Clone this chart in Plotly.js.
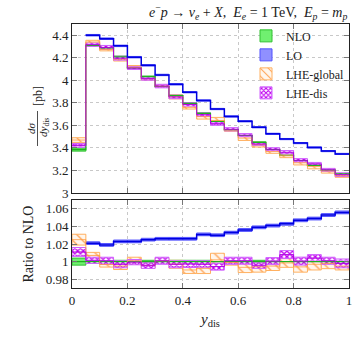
<!DOCTYPE html>
<html>
<head>
<meta charset="utf-8">
<script src="https://cdn.plot.ly/plotly-3.0.1.min.js"></script>
<style>
  body { margin: 0; background: white; }
  #chart { width: 357px; height: 340px; }
</style>
</head>
<body>
<div id="chart"></div>
<script>
// bin edges in y_dis
const binEdges = [0, 0.05, 0.1, 0.15, 0.2, 0.25, 0.3, 0.35, 0.4, 0.45, 0.5,
                  0.55, 0.6, 0.65, 0.7, 0.75, 0.8, 0.85, 0.9, 0.95, 1];

// NLO cross section per bin [pb] and relative uncertainty
const nlo = [3.385, 4.310, 4.288, 4.209, 4.111, 4.032, 3.945, 3.864, 3.796, 3.706,
             3.636, 3.562, 3.510, 3.449, 3.386, 3.335, 3.288, 3.245, 3.202, 3.169];
const nloErr = [0.004, 0.0015, 0.0015, 0.0015, 0.0015, 0.0015, 0.0015, 0.0015, 0.0015, 0.0015,
                0.0015, 0.0015, 0.0015, 0.0015, 0.0015, 0.0015, 0.0015, 0.0015, 0.0015, 0.0015];

// ratios to NLO
const loRatio = [null, 1.021, 1.019, 1.023, 1.023, 1.025, 1.026, 1.026, 1.026, 1.031,
                 1.030, 1.033, 1.036, 1.039, 1.041, 1.043, 1.047, 1.049, 1.053, 1.056];
const loErr = [null, 0.0015, 0.0015, 0.0015, 0.0015, 0.0015, 0.0015, 0.0015, 0.0015, 0.0015,
               0.0015, 0.0015, 0.0015, 0.0015, 0.0015, 0.0015, 0.0015, 0.0015, 0.0015, 0.0015];

const globalRatio = [1.025, 1.007, 0.9968, 0.995, 1.001, 0.9956, 1.001, 0.997, 0.9905, 0.9924,
                     1.002, 0.999, 0.9935, 0.994, 0.9949, 0.9985, 0.994, 0.997, 0.998, 0.995];
const globalErr = [0.006, 0.0035, 0.003, 0.004, 0.004, 0.003, 0.003, 0.0045, 0.004, 0.006,
                   0.0075, 0.003, 0.006, 0.006, 0.005, 0.005, 0.006, 0.0065, 0.006, 0.0045];

const disRatio = [1.011, 1.0015, 1.001, 0.997, 0.9994, 0.9958, 1.001, 0.997, 0.9973, 0.997,
                  0.9943, 1.001, 1.001, 0.9958, 1.0006, 1.008, 1.0006, 1.004, 1.001, 0.998];
const disErr = [0.005, 0.0035, 0.004, 0.004, 0.003, 0.0035, 0.004, 0.004, 0.004, 0.004,
                0.004, 0.004, 0.004, 0.0035, 0.004, 0.0045, 0.0045, 0.004, 0.004, 0.005];

const topTicks = [3, 3.2, 3.4, 3.6, 3.8, 4, 4.2, 4.4];
const topTickText = ["3", "3.2", "3.4", "3.6", "3.8", "4", "4.2", "4.4"];
const ratioTicks = [0.98, 1, 1.02, 1.04, 1.06];
const ratioTickText = ["0.98", "1", "1.02", "1.04", "1.06"];
const xTicks = [0, 0.2, 0.4, 0.6, 0.8, 1];
const xTickText = ["0", "0.2", "0.4", "0.6", "0.8", "1"];

const serif = "Liberation Serif, DejaVu Serif, serif";

// =========================
// HELPERS
// =========================

const centers = [];
for (let i = 0; i < binEdges.length - 1; i++) {
  centers.push((binEdges[i] + binEdges[i + 1]) / 2);
}
const binWidth = binEdges[1] - binEdges[0];

function mul(a, b) {
  return a.map((v, i) => (v === null || b[i] === null) ? null : v * b[i]);
}

function stepLine(vals, color, width, xa, ya) {
  return {
    x: binEdges,
    y: vals.concat([vals[vals.length - 1]]),
    type: 'scatter',
    mode: 'lines',
    line: { shape: 'hv', color: color, width: width },
    connectgaps: false,
    showlegend: false,
    hoverinfo: 'skip',
    xaxis: xa,
    yaxis: ya
  };
}

function band(center, relErr, style, xa, ya, name, showLegend) {
  const base = [];
  const height = [];
  for (let i = 0; i < center.length; i++) {
    if (center[i] === null) {
      base.push(null);
      height.push(null);
    } else {
      const e = center[i] * relErr[i];
      base.push(center[i] - e);
      height.push(2 * e);
    }
  }
  const marker = {
    color: style.fill,
    line: { color: style.edge, width: 1 }
  };
  if (style.pattern) {
    marker.pattern = style.pattern;
  }
  return {
    x: centers,
    y: height,
    base: base,
    width: binWidth,
    type: 'bar',
    name: name,
    legendgroup: name,
    showlegend: showLegend,
    marker: marker,
    hoverinfo: 'skip',
    xaxis: xa,
    yaxis: ya
  };
}

const styles = {
  nlo: { fill: '#70f070', edge: '#30c030', line: '#20b020' },
  lo: { fill: '#9090ff', edge: '#5050ff', line: '#0000e0' },
  global: {
    fill: '#fff2e0', edge: '#ffb060', line: '#ff9a40',
    pattern: { shape: '\\', fgcolor: '#ffa050', bgcolor: '#fff6ec', size: 7, solidity: 0.18 }
  },
  dis: {
    fill: '#f4d0ff', edge: '#d060ff', line: '#b000e0',
    pattern: { shape: 'x', fgcolor: '#c000f0', bgcolor: '#ffffff', size: 4, solidity: 0.55 }
  }
};

const ones = nlo.map(() => 1);

// top panel values
const loTop = mul(nlo, loRatio);
const globalTop = mul(nlo, globalRatio);
const disTop = mul(nlo, disRatio);

const traces = [
  // top panel
  band(nlo, nloErr, styles.nlo, 'x2', 'y2', 'NLO', true),
  band(loTop, loErr, styles.lo, 'x2', 'y2', 'LO', true),
  band(globalTop, globalErr, styles.global, 'x2', 'y2', 'LHE-global', true),
  band(disTop, disErr, styles.dis, 'x2', 'y2', 'LHE-dis', true),
  stepLine(nlo, styles.nlo.line, 1.2, 'x2', 'y2'),
  stepLine(loTop, styles.lo.line, 1.5, 'x2', 'y2'),
  stepLine(globalTop, styles.global.line, 0.8, 'x2', 'y2'),
  stepLine(disTop, styles.dis.line, 1, 'x2', 'y2'),
  // ratio panel
  band(ones, nloErr, styles.nlo, 'x', 'y', 'NLO', false),
  band(loRatio, loErr, styles.lo, 'x', 'y', 'LO', false),
  band(globalRatio, globalErr, styles.global, 'x', 'y', 'LHE-global', false),
  band(disRatio, disErr, styles.dis, 'x', 'y', 'LHE-dis', false),
  stepLine(ones, styles.nlo.line, 1.2, 'x', 'y'),
  stepLine(loRatio, styles.lo.line, 1.5, 'x', 'y'),
  stepLine(globalRatio, styles.global.line, 0.8, 'x', 'y'),
  stepLine(disRatio, styles.dis.line, 1, 'x', 'y')
];

// =========================
// LAYOUT
// =========================

const axisStyle = {
  showline: true,
  linecolor: '#222',
  linewidth: 1,
  mirror: 'ticks',
  ticks: 'inside',
  ticklen: 5,
  tickcolor: '#777',
  showgrid: true,
  gridcolor: '#c8c8c8',
  griddash: 'dot',
  gridwidth: 1,
  zeroline: false,
  tickfont: { family: serif, size: 13, color: '#222' }
};

// plot area in pixels: left 72, right 349, top 24, bottom 288
const plotW = 277;
const plotH = 264;
function px(p) { return (p - 72) / plotW; }
function py(p) { return (288 - p) / plotH; }

const layout = {
  width: 357,
  height: 340,
  margin: { l: 72, r: 8, t: 24, b: 52 },
  paper_bgcolor: 'white',
  plot_bgcolor: 'white',
  barmode: 'overlay',
  bargap: 0,
  font: { family: serif, color: '#222' },
  showlegend: true,
  legend: {
    x: 1,
    xanchor: 'right',
    y: 1.01,
    yanchor: 'top',
    bgcolor: 'rgba(0,0,0,0)',
    font: { family: serif, size: 12, color: '#222' },
    traceorder: 'normal',
    tracegroupgap: 0,
    itemwidth: 30
  },
  xaxis: Object.assign({}, axisStyle, {
    domain: [0, 1],
    anchor: 'y',
    range: [0, 1],
    tickvals: xTicks,
    ticktext: xTickText,
    title: { text: '<i>y</i><sub>dis</sub>', font: { family: serif, size: 15 }, standoff: 6 }
  }),
  xaxis2: Object.assign({}, axisStyle, {
    domain: [0, 1],
    anchor: 'y2',
    matches: 'x',
    range: [0, 1],
    tickvals: xTicks,
    showticklabels: false
  }),
  yaxis: Object.assign({}, axisStyle, {
    domain: [0, 0.333],
    anchor: 'x',
    range: [0.97, 1.07],
    tickvals: ratioTicks,
    ticktext: ratioTickText,
    title: { text: 'Ratio to NLO', font: { family: serif, size: 14 }, standoff: 8 }
  }),
  yaxis2: Object.assign({}, axisStyle, {
    domain: [0.36, 1],
    anchor: 'x2',
    range: [3, 4.5],
    tickvals: topTicks,
    ticktext: topTickText
  }),
  annotations: [
    {
      text: '<i>e</i><sup>−</sup><i>p</i> → <i>ν<sub>e</sub></i> + <i>X</i>,  <i>E<sub>e</sub></i> = 1 TeV,  <i>E<sub>p</sub></i> = <i>m<sub>p</sub></i>',
      xref: 'paper', yref: 'paper',
      x: 1, xanchor: 'right',
      y: py(12), yanchor: 'middle',
      showarrow: false,
      font: { family: serif, size: 14, color: '#222' }
    },
    {
      text: '<i>dσ</i>',
      xref: 'paper', yref: 'paper',
      x: px(31), xanchor: 'center',
      y: py(128), yanchor: 'middle',
      textangle: -90,
      showarrow: false,
      font: { family: serif, size: 11, color: '#222' }
    },
    {
      text: '<i>dy</i><sub>dis</sub>',
      xref: 'paper', yref: 'paper',
      x: px(44), xanchor: 'center',
      y: py(128), yanchor: 'middle',
      textangle: -90,
      showarrow: false,
      font: { family: serif, size: 11, color: '#222' }
    },
    {
      text: '[pb]',
      xref: 'paper', yref: 'paper',
      x: px(38), xanchor: 'center',
      y: py(96), yanchor: 'middle',
      textangle: -90,
      showarrow: false,
      font: { family: serif, size: 12, color: '#222' }
    }
  ],
  shapes: [
    {
      type: 'line',
      xref: 'paper', yref: 'paper',
      x0: px(37.5), x1: px(37.5),
      y0: py(111), y1: py(146),
      line: { color: '#222', width: 0.8 }
    }
  ]
};

Plotly.newPlot('chart', traces, layout, { displayModeBar: false, staticPlot: true });
</script>
</body>
</html>
